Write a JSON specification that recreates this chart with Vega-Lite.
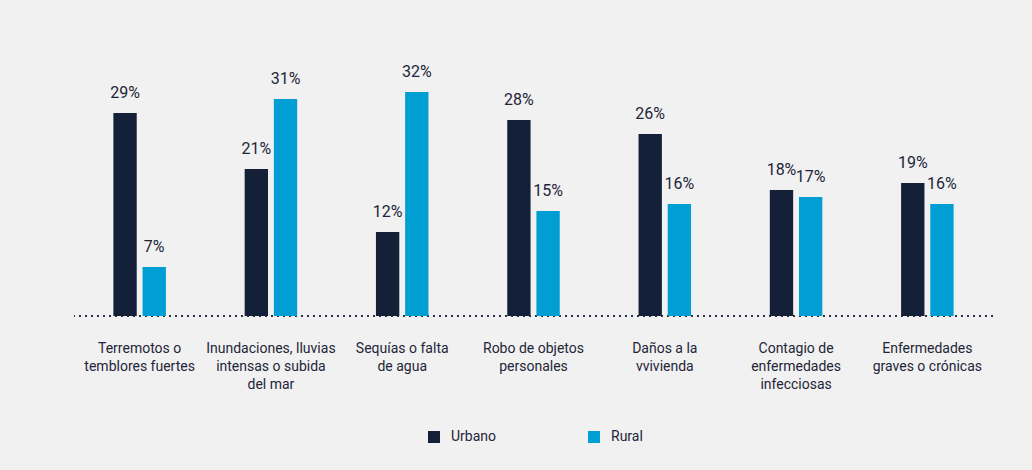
{
  "$schema": "https://vega.github.io/schema/vega-lite/v6.json",
  "width": 919,
  "height": 226,
  "autosize": {"type": "none"},
  "padding": {"left": 74, "top": 90, "right": 39, "bottom": 154},
  "background": "#f1f1f1",
  "config": {"view": {"stroke": null}, "font": "Roboto"},
  "data": {
    "values": [
      {"cat": "Terremotos o|temblores fuertes", "grp": "Urbano", "v": 0.29},
      {"cat": "Terremotos o|temblores fuertes", "grp": "Rural", "v": 0.07},
      {"cat": "Inundaciones, lluvias|intensas o subida|del mar", "grp": "Urbano", "v": 0.21},
      {"cat": "Inundaciones, lluvias|intensas o subida|del mar", "grp": "Rural", "v": 0.31},
      {"cat": "Sequías o falta|de agua", "grp": "Urbano", "v": 0.12},
      {"cat": "Sequías o falta|de agua", "grp": "Rural", "v": 0.32},
      {"cat": "Robo de objetos|personales", "grp": "Urbano", "v": 0.28},
      {"cat": "Robo de objetos|personales", "grp": "Rural", "v": 0.15},
      {"cat": "Daños a la|vvivienda", "grp": "Urbano", "v": 0.26},
      {"cat": "Daños a la|vvivienda", "grp": "Rural", "v": 0.16},
      {"cat": "Contagio de|enfermedades|infecciosas", "grp": "Urbano", "v": 0.18},
      {"cat": "Contagio de|enfermedades|infecciosas", "grp": "Rural", "v": 0.17},
      {"cat": "Enfermedades|graves o crónicas", "grp": "Urbano", "v": 0.19},
      {"cat": "Enfermedades|graves o crónicas", "grp": "Rural", "v": 0.16}
    ]
  },
  "layer": [
    {
      "data": {"values": [{}]},
      "mark": {"type": "rule", "color": "#2a3245", "strokeWidth": 2, "strokeDash": [2, 4]},
      "encoding": {"y": {"datum": 0, "type": "quantitative", "scale": {"domain": [0, 0.323], "nice": false}, "axis": null}}
    },
    {
      "mark": {"type": "bar"},
      "encoding": {
        "x": {
          "field": "cat", "type": "nominal", "sort": null,
          "scale": {"paddingInner": 0.6, "paddingOuter": 0.3},
          "axis": {
            "title": null, "domain": false, "ticks": false, "labelAngle": 0,
            "labelPadding": 25, "labelFontSize": 14, "labelFont": "Roboto",
            "labelColor": "#1e2538", "labelLineHeight": 18,
            "labelExpr": "split(datum.label, '|')", "labelBaseline": "top",
            "labelLimit": 200
          }
        },
        "xOffset": {"field": "grp", "type": "nominal", "sort": ["Urbano", "Rural"], "scale": {"paddingInner": 0.2}},
        "y": {"field": "v", "type": "quantitative", "scale": {"domain": [0, 0.323], "nice": false}, "axis": null},
        "color": {
          "field": "grp", "type": "nominal",
          "scale": {"domain": ["Urbano", "Rural"], "range": ["#132038", "#009ed3"]},
          "legend": {
            "title": null, "orient": "none", "legendX": 353, "legendY": 340,
            "direction": "horizontal", "symbolType": "square", "symbolSize": 144,
            "symbolStrokeWidth": 0, "columnPadding": 90, "labelFontSize": 14,
            "labelFont": "Roboto", "labelColor": "#1e2538", "labelOffset": 10
          }
        }
      }
    },
    {
      "mark": {"type": "text", "baseline": "alphabetic", "dy": -15, "fontSize": 16, "color": "#1e2538", "font": "Roboto"},
      "encoding": {
        "x": {"field": "cat", "type": "nominal", "sort": null},
        "xOffset": {"field": "grp", "type": "nominal", "sort": ["Urbano", "Rural"]},
        "y": {"field": "v", "type": "quantitative"},
        "text": {"field": "v", "type": "quantitative", "format": ".0%"}
      }
    }
  ]
}
